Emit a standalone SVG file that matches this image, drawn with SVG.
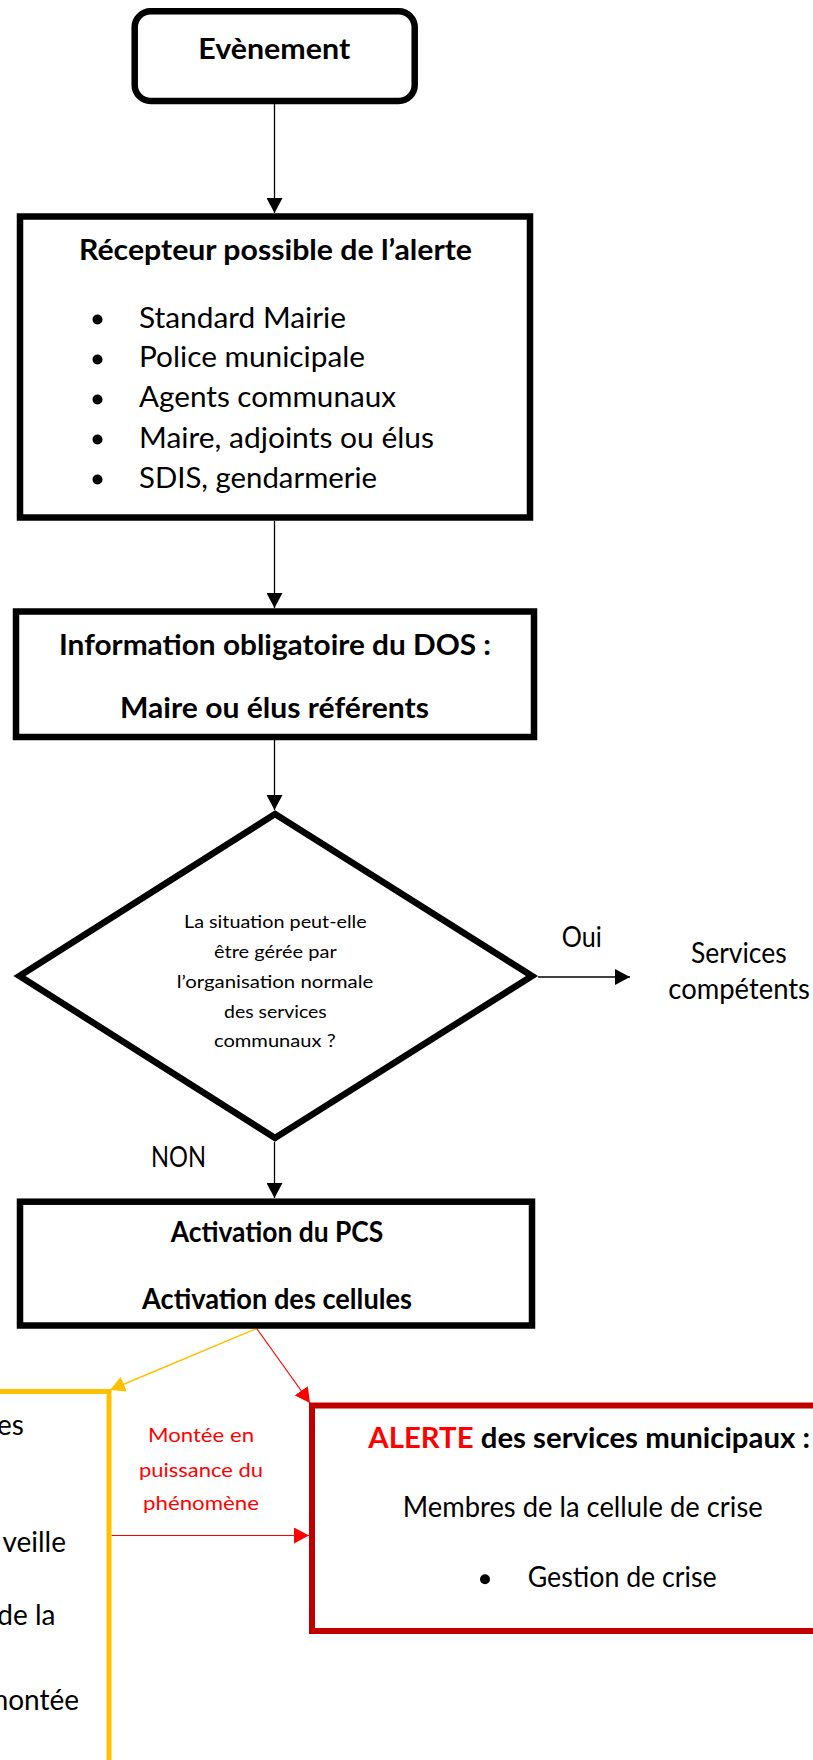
<svg xmlns="http://www.w3.org/2000/svg" width="813" height="1760" viewBox="0 0 813 1760">
<style>
.box{fill:#fff;stroke:#000;stroke-width:6.5}
.t{font-family:Lato,"Liberation Sans",sans-serif;fill:#000}
.b{font-weight:bold;font-size:28px}
.r{font-size:28px}
.s{font-size:18px}
.m{font-size:19px;fill:#ff0000}
.c{stroke:#000;stroke-width:1.3;fill:none}
</style>
<defs>
<marker id="ah" viewBox="0 0 15 16" refX="15" refY="8" markerWidth="15" markerHeight="16" markerUnits="userSpaceOnUse" orient="auto"><path d="M0,0 L15,8 L0,16 z" fill="#000"/></marker>
<marker id="ahy" viewBox="0 0 15 16" refX="15" refY="8" markerWidth="15" markerHeight="16" markerUnits="userSpaceOnUse" orient="auto"><path d="M0,0 L15,8 L0,16 z" fill="#FFC000"/></marker>
<marker id="ahr" viewBox="0 0 15 16" refX="15" refY="8" markerWidth="15" markerHeight="16" markerUnits="userSpaceOnUse" orient="auto"><path d="M0,0 L15,8 L0,16 z" fill="#FF0000"/></marker>
</defs>

<g id="connectors">
<line class="c" x1="274.5" y1="104" x2="274.5" y2="213" marker-end="url(#ah)"/>
<line class="c" x1="274.5" y1="521" x2="274.5" y2="608" marker-end="url(#ah)"/>
<line class="c" x1="274.5" y1="740" x2="274.5" y2="810" marker-end="url(#ah)"/>
<line class="c" x1="538" y1="977" x2="630" y2="977" marker-end="url(#ah)"/>
<line class="c" x1="274.5" y1="1142" x2="274.5" y2="1198" marker-end="url(#ah)"/>
<line x1="256.7" y1="1328.5" x2="110" y2="1390" stroke="#FFC000" stroke-width="1.5" marker-end="url(#ahy)"/>
<line x1="256.7" y1="1328.5" x2="310" y2="1403" stroke="#FF0000" stroke-width="1.2" marker-end="url(#ahr)"/>
<line x1="111.5" y1="1535.5" x2="309" y2="1535.5" stroke="#FF0000" stroke-width="1.2" marker-end="url(#ahr)"/>
<text class="t r" x="561.7" y="946.7" textLength="40" lengthAdjust="spacingAndGlyphs">Oui</text>
<text class="t r" x="151" y="1167" textLength="55" lengthAdjust="spacingAndGlyphs">NON</text>
<text class="t m" x="201" y="1442" text-anchor="middle" textLength="106" lengthAdjust="spacingAndGlyphs">Montée en</text>
<text class="t m" x="201" y="1477" text-anchor="middle" textLength="124" lengthAdjust="spacingAndGlyphs">puissance du</text>
<text class="t m" x="201" y="1510" text-anchor="middle" textLength="116" lengthAdjust="spacingAndGlyphs">phénomène</text>
</g>

<g id="evenement">
<rect class="box" x="134.7" y="11.3" width="280" height="89.7" rx="16"/>
<text class="t b" x="274.2" y="59" text-anchor="middle" textLength="152" lengthAdjust="spacingAndGlyphs">Evènement</text>
</g>

<g id="recepteur">
<rect class="box" x="20" y="216.5" width="510" height="301"/>
<text class="t b" x="79" y="260" textLength="393" lengthAdjust="spacingAndGlyphs">Récepteur possible de l’alerte</text>
<g fill="#000">
<circle cx="97.5" cy="319.5" r="5"/>
<circle cx="97.5" cy="359.5" r="5"/>
<circle cx="97.5" cy="399.5" r="5"/>
<circle cx="97.5" cy="439.5" r="5"/>
<circle cx="97.5" cy="479.5" r="5"/>
</g>
<text class="t r" x="139" y="327.7" textLength="207" lengthAdjust="spacingAndGlyphs">Standard Mairie</text>
<text class="t r" x="139" y="367" textLength="226" lengthAdjust="spacingAndGlyphs">Police municipale</text>
<text class="t r" x="139" y="407" textLength="257" lengthAdjust="spacingAndGlyphs">Agents communaux</text>
<text class="t r" x="139" y="447.5" textLength="295" lengthAdjust="spacingAndGlyphs">Maire, adjoints ou élus</text>
<text class="t r" x="139" y="487.8" textLength="238" lengthAdjust="spacingAndGlyphs">SDIS, gendarmerie</text>
</g>

<g id="information">
<rect class="box" x="16" y="611.5" width="518" height="125.5"/>
<text class="t b" x="59" y="655" textLength="432" lengthAdjust="spacingAndGlyphs">Information obligatoire du DOS :</text>
<text class="t b" x="120" y="718" textLength="309" lengthAdjust="spacingAndGlyphs">Maire ou élus référents</text>
</g>

<g id="decision">
<polygon class="box" points="275,814 532,976 275,1138 19.5,976"/>
<text class="t s" x="184" y="928.3" textLength="182.7" lengthAdjust="spacingAndGlyphs">La situation peut-elle</text>
<text class="t s" x="214" y="958.3" textLength="122.7" lengthAdjust="spacingAndGlyphs">être gérée par</text>
<text class="t s" x="176.7" y="988.3" textLength="196.6" lengthAdjust="spacingAndGlyphs">l’organisation normale</text>
<text class="t s" x="224" y="1018.3" textLength="102.7" lengthAdjust="spacingAndGlyphs">des services</text>
<text class="t s" x="214" y="1046.7" textLength="121.7" lengthAdjust="spacingAndGlyphs">communaux ?</text>
</g>

<g id="services">
<text class="t r" x="691" y="963.3" textLength="95.7" lengthAdjust="spacingAndGlyphs">Services</text>
<text class="t r" x="668.3" y="998.5" textLength="141.7" lengthAdjust="spacingAndGlyphs">compétents</text>
</g>

<g id="activation">
<rect class="box" x="20" y="1201.7" width="512" height="123.8"/>
<text class="t b" x="170.7" y="1241.7" textLength="212.6" lengthAdjust="spacingAndGlyphs">Activation du PCS</text>
<text class="t b" x="142" y="1309.3" textLength="270" lengthAdjust="spacingAndGlyphs">Activation des cellules</text>
</g>

<g id="vigilance">
<rect x="-200" y="1391.5" width="309" height="600" fill="#fff" stroke="#FFC000" stroke-width="5"/>
<text class="t r" x="24" y="1435" text-anchor="end">es</text>
<text class="t r" x="66" y="1552" text-anchor="end">veille</text>
<text class="t r" x="55.4" y="1625" text-anchor="end">de la</text>
<text class="t r" x="79" y="1710" text-anchor="end">montée</text>
</g>

<g id="alerte">
<rect x="312" y="1405.5" width="600" height="225.5" fill="#fff" stroke="#C00000" stroke-width="6"/>
<text class="t b" x="368.3" y="1448.3" textLength="441.7" lengthAdjust="spacingAndGlyphs"><tspan fill="#FF0000">ALERTE</tspan> des services municipaux :</text>
<text class="t r" x="402.7" y="1517.3" textLength="360" lengthAdjust="spacingAndGlyphs">Membres de la cellule de crise</text>
<circle cx="485" cy="1579.3" r="5" fill="#000"/>
<text class="t r" x="527.7" y="1587.3" textLength="189" lengthAdjust="spacingAndGlyphs">Gestion de crise</text>
</g>
</svg>
